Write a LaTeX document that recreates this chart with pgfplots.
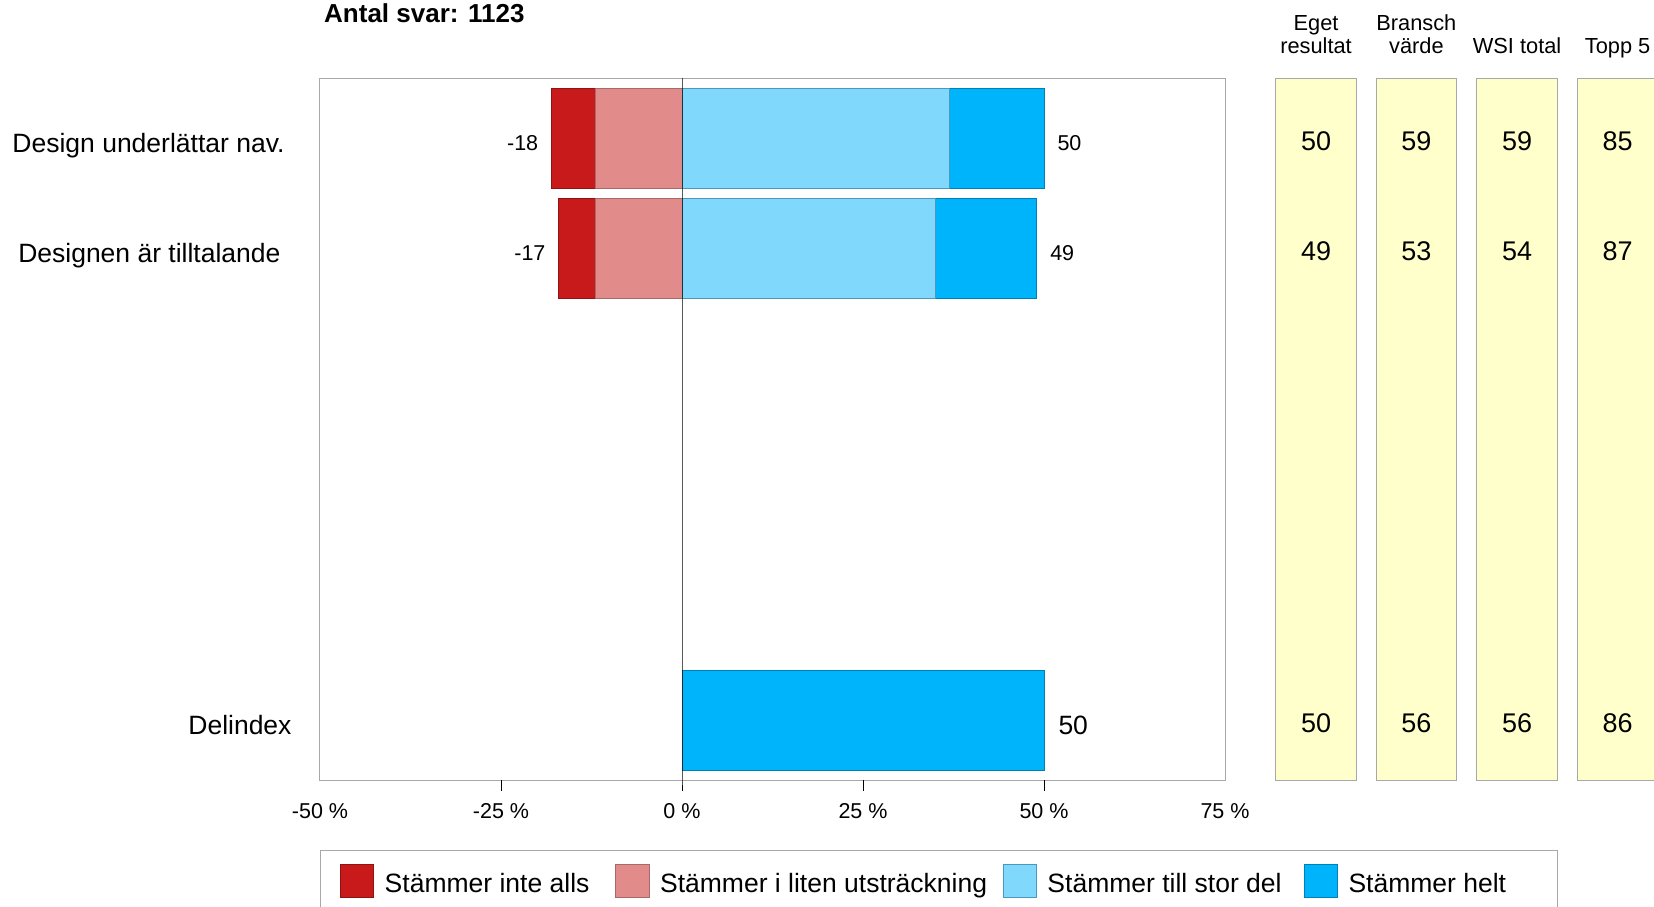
\documentclass[border=0pt]{standalone}
\usepackage{fontspec}
\setmainfont{Liberation Sans}
\usepackage{pgfplots}
\pgfplotsset{compat=1.18}

\definecolor{cred}{HTML}{C81A1A}
\definecolor{credd}{HTML}{8E1414}
\definecolor{cpink}{HTML}{E18C8A}
\definecolor{cpinkd}{HTML}{A86A68}
\definecolor{clb}{HTML}{80D8FC}
\definecolor{clbd}{HTML}{4A98BC}
\definecolor{cblue}{HTML}{00B4FC}
\definecolor{cblued}{HTML}{0080B4}
\definecolor{cyel}{HTML}{FFFFCC}
\definecolor{cgrid}{HTML}{A8A8A8}

\newcommand{\fbig}{\fontsize{26.5}{31}\selectfont}
\newcommand{\fval}{\fontsize{27}{32}\selectfont}
\newcommand{\fsmall}{\fontsize{21.5}{25}\selectfont}
\newcommand{\fhead}{\fontsize{21.8}{25}\selectfont}

\pgfplotsset{
  sidebox/.style={
    anchor=south west, scale only axis, width=80.7pt, height=701.7pt,
    xmin=0, xmax=1, ymin=0, ymax=701.7, y dir=reverse,
    axis background/.style={fill=cyel},
    axis line style={draw=cgrid, line width=1pt},
    xtick=\empty, ytick=\empty, clip=false},
  valplot/.style={only marks, mark=*, mark size=0pt, mark options={draw=none, fill=none},
    point meta=explicit symbolic, nodes near coords,
    nodes near coords style={font=\fval, anchor=base, inner sep=0pt, yshift=-12pt}},
  barsty/.style={xbar, bar width=100, bar shift=0pt, forget plot, line width=1pt},
}

\begin{document}
\begin{tikzpicture}
\path[use as bounding box] (0pt,0pt) rectangle (1654pt,906pt);

\begin{axis}[
  at={(320pt,126pt)}, anchor=south west,
  scale only axis, width=905pt, height=701.7pt,
  xmin=-50, xmax=75, ymin=0, ymax=701.7, y dir=reverse,
  clip=false,
  axis line style={draw=cgrid, line width=1pt},
  xtick={-50,-25,0,25,50,75},
  xticklabels={-50 \%,-25 \%,0 \%,25 \%,50 \%,75 \%},
  xtick style={draw=none},
  xticklabel style={font=\fsmall, anchor=base, inner sep=0pt, yshift=-38.8pt},
  ytick={60,170.5,641.7},
  yticklabels={Design underlättar nav.\rule{7pt}{0pt}, Designen är tilltalande\rule{11pt}{0pt}, Delindex},
  ytick style={draw=none},
  yticklabel style={font=\fbig, anchor=base east, inner sep=0pt, xshift=-28.3pt, yshift=-14pt},
  legend image code/.code={\draw[line width=1pt,#1] (0pt,-14.5pt) rectangle (33.2pt,17.9pt);},
  legend columns=4,
  legend cell align=left,
  legend style={at={(axis description cs:0.0218,-0.1201)}, anchor=north west,
    draw=none, fill=none, inner sep=0pt, column sep=0pt,
    nodes={inner sep=0pt, font=\fbig, text height=19pt, text depth=0pt},
    /tikz/every odd column/.append style={column sep=10.6pt},
    /tikz/column 2/.append style={column sep=25.9pt},
    /tikz/column 4/.append style={column sep=15.6pt},
    /tikz/column 6/.append style={column sep=22.1pt}},
]
% negative side (outer first, then inner)
\addplot[barsty, fill=cred, draw=credd, point meta=x, nodes near coords,
  /pgf/number format/assume math mode=true,
  nodes near coords style={font=\fsmall, anchor=base east, inner sep=0pt, xshift=-13pt, yshift=-11.7pt}]
  coordinates {(-18,60) (-17,170.5)};
\addplot[barsty, fill=cpink, draw=cpinkd] coordinates {(-12,60) (-12,170.5)};
% positive side (outer first, then inner)
\addplot[barsty, fill=cblue, draw=cblued, point meta=x, nodes near coords,
  /pgf/number format/assume math mode=true,
  nodes near coords style={font=\fsmall, anchor=base west, inner sep=0pt, xshift=13pt, yshift=-11.7pt}]
  coordinates {(50,60) (49,170.5)};
\addplot[barsty, fill=clb, draw=clbd] coordinates {(37,60) (35,170.5)};
\addplot[barsty, fill=cblue, draw=cblued, point meta=x, nodes near coords,
  /pgf/number format/assume math mode=true,
  nodes near coords style={font=\fbig, anchor=base west, inner sep=0pt, xshift=14pt, yshift=-14pt}]
  coordinates {(50,641.7)};

\draw[black, line width=1pt] (axis cs:0,0) -- (axis cs:0,701.7) -- ++(0pt,-10.7pt);
\pgfplotsinvokeforeach{-25,25,50}{\draw[black, line width=1pt] (axis cs:#1,701.7) -- ++(0pt,-10.7pt);}

\addlegendimage{fill=cred, draw=credd}
\addlegendentry{Stämmer inte alls}
\addlegendimage{fill=cpink, draw=cpinkd}
\addlegendentry{Stämmer i liten utsträckning}
\addlegendimage{fill=clb, draw=clbd}
\addlegendentry{Stämmer till stor del}
\addlegendimage{fill=cblue, draw=cblued}
\addlegendentry{Stämmer helt}
\end{axis}

\begin{axis}[sidebox, at={(1275.7pt,126pt)}]
\addplot[valplot] coordinates {(0.5,60) [50] (0.5,170.5) [49] (0.5,641.7) [50]};
\node[font=\fhead, anchor=base] at ([yshift=48.3pt]axis description cs:0.5,1) {Eget};
\node[font=\fhead, anchor=base] at ([yshift=25pt]axis description cs:0.5,1) {resultat};
\end{axis}

\begin{axis}[sidebox, at={(1376pt,126pt)}]
\addplot[valplot] coordinates {(0.5,60) [59] (0.5,170.5) [53] (0.5,641.7) [56]};
\node[font=\fhead, anchor=base] at ([yshift=48.3pt]axis description cs:0.5,1) {Bransch};
\node[font=\fhead, anchor=base] at ([yshift=25pt]axis description cs:0.5,1) {värde};
\end{axis}

\begin{axis}[sidebox, at={(1476.7pt,126pt)}]
\addplot[valplot] coordinates {(0.5,60) [59] (0.5,170.5) [54] (0.5,641.7) [56]};
\node[font=\fhead, anchor=base] at ([yshift=25pt]axis description cs:0.5,1) {WSI total};
\end{axis}

\begin{axis}[sidebox, at={(1577.3pt,126pt)}]
\addplot[valplot] coordinates {(0.5,60) [85] (0.5,170.5) [87] (0.5,641.7) [86]};
\node[font=\fhead, anchor=base] at ([yshift=25pt]axis description cs:0.5,1) {Topp 5};
\end{axis}

\node[anchor=base west, inner sep=0pt, font=\bfseries\fontsize{26}{30}\selectfont] at (324pt,883.3pt) {Antal svar: 1123};
\draw[cgrid, line width=1pt] (320pt,56pt) rectangle (1557pt,-30pt);
\end{tikzpicture}
\end{document}
